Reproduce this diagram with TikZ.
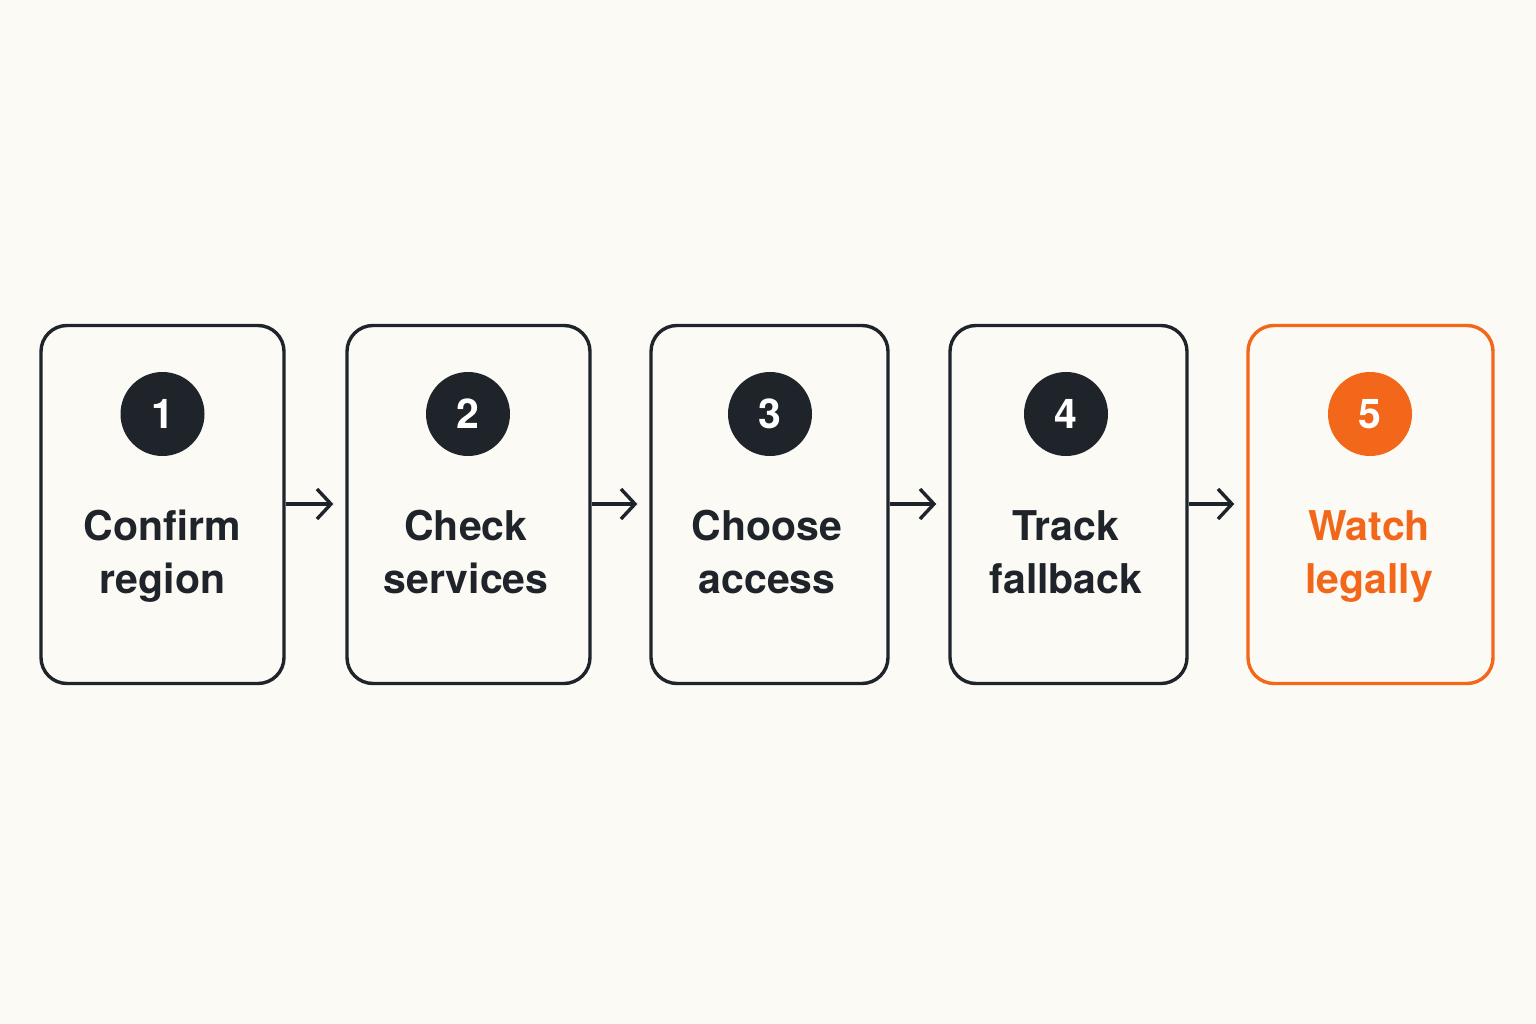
\documentclass[tikz,border=0pt]{standalone}
\usepackage{fontspec}
\setmainfont{TeX Gyre Heros}
\usetikzlibrary{arrows.meta}
\definecolor{bgc}{HTML}{FCFAF5}
\definecolor{ink}{HTML}{1E2429}
\definecolor{accent}{HTML}{F26719}
\tikzset{
  stepbox/.style={draw=ink, line width=3.4pt, rounded corners=26pt, inner sep=0pt, minimum height=358pt},
  numdot/.style={circle, fill=ink, inner sep=0pt, minimum size=84pt, text=white, font=\fontsize{41}{41}\selectfont\bfseries},
  steplabel/.style={text=ink, align=center, anchor=base, inner sep=0pt, font=\fontsize{41}{53}\selectfont\bfseries},
  flow/.style={draw=ink, line width=3.4pt, -{Straight Barb[length=14pt, width=30pt, line width=3.4pt]}, shorten >=12pt},
}
\begin{document}
\begin{tikzpicture}[x=1pt, y=-1pt]
\fill[bgc] (0,0) rectangle (1536,1024);
\useasboundingbox (0,0) rectangle (1536,1024);
\node[stepbox, minimum width=243pt] (b1) at (162.5,504.5) {};
\node[stepbox, minimum width=243pt] (b2) at (468.5,504.5) {};
\node[stepbox, minimum width=237pt] (b3) at (769.5,504.5) {};
\node[stepbox, minimum width=237pt] (b4) at (1068.5,504.5) {};
\node[stepbox, minimum width=245pt, draw=accent] (b5) at (1370.5,504.5) {};
\node[numdot] (n1) at (162.5,414) {1};
\node[numdot] (n2) at (468,414) {2};
\node[numdot] (n3) at (770,414) {3};
\node[numdot] (n4) at (1066,414) {4};
\node[numdot, fill=accent] (n5) at (1370,414) {5};
\node[steplabel] (t1) at (162.5,593) {Confirm\\region};
\node[steplabel] (t2) at (466,593) {Check\\services};
\node[steplabel] (t3) at (767,593) {Choose\\access};
\node[steplabel] (t4) at (1066,593) {Track\\fallback};
\node[steplabel, text=accent] (t5) at (1369,593) {Watch\\legally};
\draw[flow] (b1.east |- 0,504) -- (b2.west |- 0,504);
\draw[flow] (b2.east |- 0,504) -- (b3.west |- 0,504);
\draw[flow] (b3.east |- 0,504) -- (b4.west |- 0,504);
\draw[flow] (b4.east |- 0,504) -- (b5.west |- 0,504);
\end{tikzpicture}
\end{document}
